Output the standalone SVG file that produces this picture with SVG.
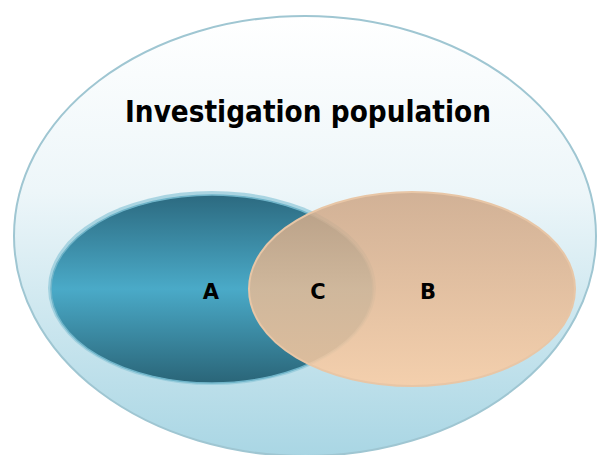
<svg xmlns="http://www.w3.org/2000/svg" width="601" height="455" viewBox="0 0 601 455">
<defs>
<linearGradient id="gOuter" x1="0" y1="0" x2="0" y2="1">
<stop offset="0" stop-color="#ffffff"/>
<stop offset="0.4" stop-color="#edf6f9"/>
<stop offset="1" stop-color="#a9d6e4"/>
</linearGradient>
<linearGradient id="gA" x1="0" y1="0" x2="0" y2="1">
<stop offset="0" stop-color="#2c6a80"/>
<stop offset="0.5" stop-color="#4aaac8"/>
<stop offset="1" stop-color="#2a6578"/>
</linearGradient>
<linearGradient id="gB" x1="0" y1="0" x2="0" y2="1">
<stop offset="0" stop-color="#cda686"/>
<stop offset="1" stop-color="#fdcda3"/>
</linearGradient>
<style>
.lbl{font-family:"DejaVu Sans","Liberation Sans",sans-serif;font-weight:bold;fill:#000;text-anchor:middle}
</style>
</defs>
<rect width="601" height="455" fill="#ffffff"/>
<g id="population">
<ellipse cx="305" cy="236" rx="291" ry="220" fill="url(#gOuter)" stroke="#9fc6d2" stroke-width="2"/>
<text class="lbl" x="308" y="122" font-size="31" textLength="366" lengthAdjust="spacingAndGlyphs">Investigation population</text>
</g>
<g id="setA">
<ellipse cx="212" cy="288" rx="164" ry="97" fill="#8fc7d8" opacity="0.7"/>
<ellipse cx="212" cy="289" rx="161" ry="94" fill="url(#gA)" stroke="#6fb4c9" stroke-width="1.5"/>
<text class="lbl" x="211" y="299" font-size="21">A</text>
</g>
<g id="setB">
<ellipse cx="412" cy="289" rx="163" ry="97" fill="url(#gB)" fill-opacity="0.86" stroke="#e8c6a6" stroke-width="2"/>
<text class="lbl" x="428" y="299" font-size="21">B</text>
</g>
<g id="setC">
<text class="lbl" x="318" y="299" font-size="21">C</text>
</g>
<g id="connectors"/>
</svg>
